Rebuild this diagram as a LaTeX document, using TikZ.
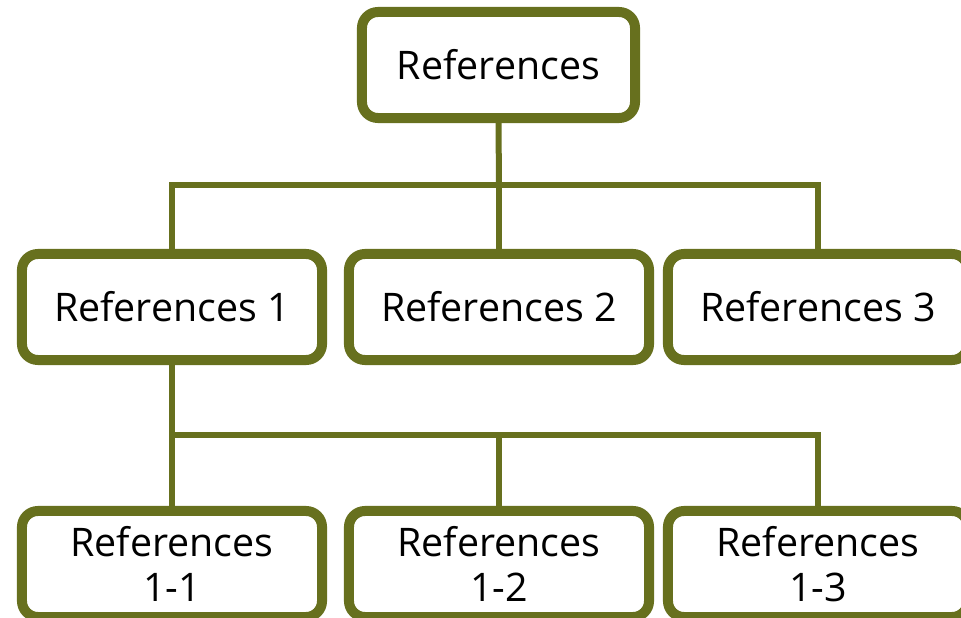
\documentclass[tikz,border=0pt]{standalone}
\usepackage{fontspec}
\setmainfont{Open Sans}
\usepackage{tikz}
\definecolor{olive}{RGB}{103,112,30}

\begin{document}
\begin{tikzpicture}[x=0.025cm, y=-0.025cm,
    box/.style = {draw=olive, line width=0.25cm, rounded corners=0.4cm, fill=white,
                  minimum width=7.5cm, minimum height=2.65cm, align=center,
                  font=\fontsize{28}{32}\selectfont},
    link/.style = {draw=olive, line width=0.15cm}]
    \clip (0,0) rectangle (961,618);

    % links
    \coordinate (hub) at (499,185);
    \coordinate (subhub) at (499,435);

    \node [box, minimum width=6.825cm] (top) at (498.5,65) {References};

    \node [box] (r1) at (172,307) {References 1};
    \node [box] (r2) at (499,307) {References 2};
    \node [box] (r3) at (818,307) {References 3};

    \node [box] (r11) at (172,564) {References\\1-1};
    \node [box] (r12) at (499,564) {References\\1-2};
    \node [box] (r13) at (818,564) {References\\1-3};

    \path[link] (top.south) -- (hub);
    \path[link] (r1.north) |- (hub) -| (r3.north);
    \path[link] (hub) -- (r2.north);

    \path[link] (r1.south) |- (subhub) -| (r13.north);
    \path[link] (r1.south) -- (r11.north);
    \path[link] (subhub) -- (r12.north);
\end{tikzpicture}
\end{document}
